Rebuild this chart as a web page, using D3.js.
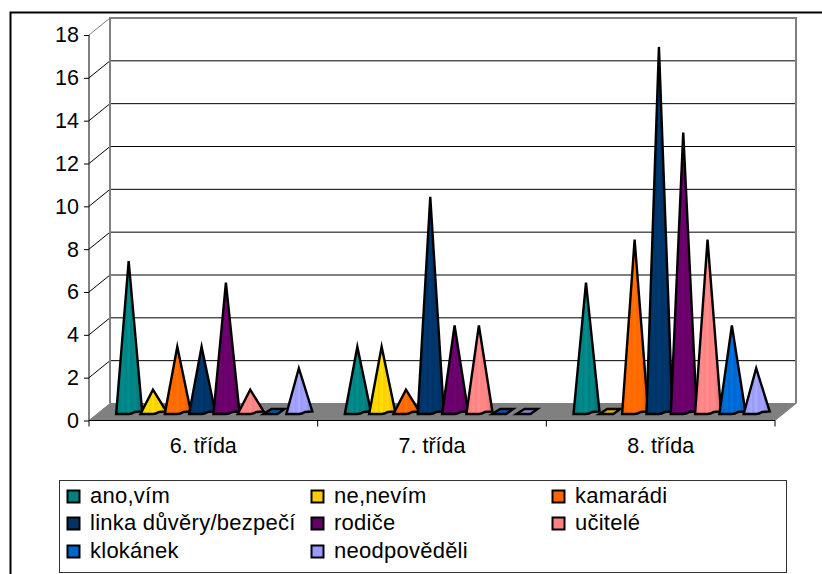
<!DOCTYPE html>
<html><head><meta charset="utf-8">
<script src="https://cdn.jsdelivr.net/npm/d3@7"></script>
<style>html,body{margin:0;background:#fff}svg{display:block}text{font-family:"Liberation Sans",Arial,sans-serif;fill:#000}</style>
</head><body><svg id="c" width="822" height="574"></svg>
<script>
const categories = ["6. třída","7. třída","8. třída"];
const seriesNames = ["ano,vím","ne,nevím","kamarádi","linka důvěry/bezpečí","rodiče","učitelé","klokánek","neodpověděli"];
const seriesColors = ["#008080","#ffcc00","#ff6600","#003366","#660066","#ff8080","#0066cc","#9999ff"];
const anoVim = [7,3,6];
const neNevim = [1,3,0];
const kamaradi = [3,1,8];
const linka = [3,10,17];
const rodice = [6,4,13];
const ucitele = [1,4,8];
const klokanek = [0,0,4];
const neodpovedeli = [2,0,2];
const seriesValues = [anoVim,neNevim,kamaradi,linka,rodice,ucitele,klokanek,neodpovedeli];
const yTicks = d3.range(0,19,2);

const svg = d3.select("#c");
const dx = 21, dy = 17;
const x0 = d3.scaleBand().domain(categories).range([89,775]);
const y = d3.scaleLinear().domain([0,18]).range([420.5,35]);
const baseOffset = 6.5;

// frame
svg.append("path").attr("d","M10.5 575V12.5H822").attr("fill","none").attr("stroke","#000").attr("stroke-width",2);

// floor and walls
const left=x0.range()[0], right=x0.range()[1];
svg.append("path").attr("d",`M${left} ${y(0)}L${left+dx} ${y(0)-dy}H${right+dx}L${right} ${y(0)}Z`).attr("fill","#808080").attr("stroke","#808080");
yTicks.forEach(t=>{
  if(t>0){
    const c = t===18?"#808080":"#000";
    svg.append("line").attr("x1",left).attr("y1",y(t)).attr("x2",left+dx).attr("y2",y(t)-dy).attr("stroke",c);
    if(t<18) svg.append("line").attr("x1",left+dx).attr("y1",y(t)-dy).attr("x2",right+dx).attr("y2",y(t)-dy).attr("stroke","#000");
  }
});
svg.append("path").attr("d",`M${left+dx} ${y(0)-dy}V${y(18)-dy}H${right+dx}V${y(0)-dy}`).attr("fill","none").attr("stroke","#808080").attr("stroke-width",2);

// axes
const yAxis = svg.append("g").attr("transform",`translate(${left},0)`).call(d3.axisLeft(y).tickValues(yTicks).tickSize(5).tickPadding(5));
const xAxis = svg.append("g").attr("transform",`translate(0,${y(0)})`).call(d3.axisBottom(x0).tickSize(0).tickPadding(17));
yAxis.selectAll("text").attr("font-size",21.5).style("font-family",'"Liberation Sans"');
xAxis.selectAll("text").attr("font-size",21.5).style("font-family",'"Liberation Sans"');
svg.selectAll(".domain").attr("stroke","#000");
yAxis.select(".domain").attr("d",`M0 ${y(18)}V${y(0)}`);
xAxis.select(".domain").attr("d",`M${left} 0H${right}`);
[...categories.map(c=>x0(c)),right].forEach(px=>svg.append("line").attr("x1",px).attr("x2",px).attr("y1",y(0)).attr("y2",y(0)+6).attr("stroke","#000"));

// gradients
const defs = svg.append("defs");
seriesColors.forEach((c,i)=>{
  const g = defs.append("linearGradient").attr("id","g"+i);
  const col=d3.color(c);
  [[0,col.darker(.15)],[.12,col],[.3,col.brighter(.25)],[.36,col],[.5,col.brighter(.35)],[.56,col],[.72,col.brighter(.2)],[.85,col.darker(.1)],[1,col.darker(.35)]]
    .forEach(([o,k])=>g.append("stop").attr("offset",o).attr("stop-color",k));
});

// cones
const xS = d3.scaleBand().domain(d3.range(8)).range([0,194.5]);
const hw = 12.5;
categories.forEach((cat,ci)=>{
  seriesValues.forEach((vals,si)=>{
    const v = vals[ci];
    const cx = x0(cat)+27.5+xS(si)+xS.bandwidth()/2;
    const b = y(0)-baseOffset;
    let d, fill=`url(#g${si})`;
    if(v===0){
      d=`M${cx-11} ${b}L${cx-3} ${b-5}H${cx+10}L${cx+3} ${b}Z`;
      fill=d3.color(seriesColors[si]).darker(.4);
    } else {
      const top=y(v)-baseOffset-3;
      d=`M${cx-hw} ${b}L${cx} ${top}L${cx+hw+1} ${b-2.5}L${cx+6} ${b-2}Q${cx+3} ${b} ${cx} ${b}Z`;
    }
    svg.append("path").attr("d",d).attr("fill",fill).attr("stroke","#000").attr("stroke-width",2.4).attr("stroke-linejoin","miter").attr("stroke-miterlimit",6);
  });
});

// legend
svg.append("rect").attr("x",59.5).attr("y",480.5).attr("width",727).attr("height",92).attr("fill","#fff").attr("stroke","#333");
const lx=[67,311,552], ly=[496.5,523.5,551.5];
seriesNames.forEach((n,i)=>{
  const col=i%3,row=Math.floor(i/3);
  svg.append("rect").attr("x",lx[col]+.5).attr("y",ly[row]-6).attr("width",12).attr("height",12).attr("fill",seriesColors[i]).attr("stroke","#000").attr("stroke-width",2);
  svg.append("text").attr("x",lx[col]+23).attr("y",ly[row]+6.5).attr("font-size",22).attr("letter-spacing",.25).text(n);
});
</script></body></html>
